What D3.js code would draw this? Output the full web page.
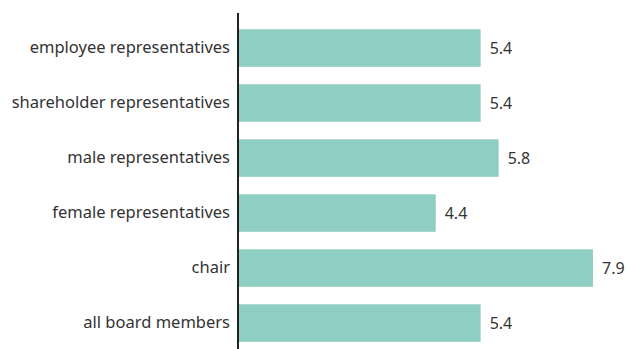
<!DOCTYPE html>
<html>
<head>
<meta charset="utf-8">
<script src="https://cdn.jsdelivr.net/npm/d3@7/dist/d3.min.js"></script>
<style>
  body { margin: 0; background: #fff; }
  svg text { font-family: "Noto Sans", sans-serif; fill: #333; font-variant-ligatures: none; }
</style>
</head>
<body>
<svg width="626" height="349"></svg>
<script>
  // data
  var categories = ["employee representatives", "shareholder representatives", "male representatives",
                    "female representatives", "chair", "all board members"];
  var values = [5.4, 5.4, 5.8, 4.4, 7.9, 5.4];

  var svg = d3.select("svg");
  var x0 = 238;

  var x = d3.scaleLinear().domain([0, 7.9]).range([x0, 593]);
  var y = d3.scaleBand()
    .domain(categories)
    .range([20.5, 350.6])
    .paddingInner(0.318)
    .paddingOuter(0.16);

  var data = categories.map(function(c, i) { return { cat: c, val: values[i] }; });

  svg.selectAll("rect.bar")
    .data(data)
    .enter().append("rect")
    .attr("class", "bar")
    .attr("x", x(0))
    .attr("y", function(d) { return y(d.cat); })
    .attr("width", function(d) { return x(d.val) - x(0); })
    .attr("height", y.bandwidth())
    .attr("fill", "#8fcec2");

  svg.selectAll("text.val")
    .data(data)
    .enter().append("text")
    .attr("class", "val")
    .attr("x", function(d) { return x(d.val) + 9; })
    .attr("y", function(d) { return y(d.cat) + y.bandwidth() / 2; })
    .attr("dy", "0.35em")
    .style("font-size", "16px")
    .text(function(d) { return d3.format(".1f")(d.val); });

  // category axis
  var axis = svg.append("g")
    .attr("transform", "translate(" + x0 + ",0)")
    .call(d3.axisLeft(y).tickSize(0).tickPadding(8));
  axis.select(".domain").remove();
  axis.selectAll("text")
    .style("font-size", "16.5px")
    .attr("fill", "#333");

  svg.append("line")
    .attr("x1", x0).attr("x2", x0)
    .attr("y1", 13).attr("y2", 349)
    .attr("stroke", "#222")
    .attr("stroke-width", 2);
</script>
</body>
</html>
